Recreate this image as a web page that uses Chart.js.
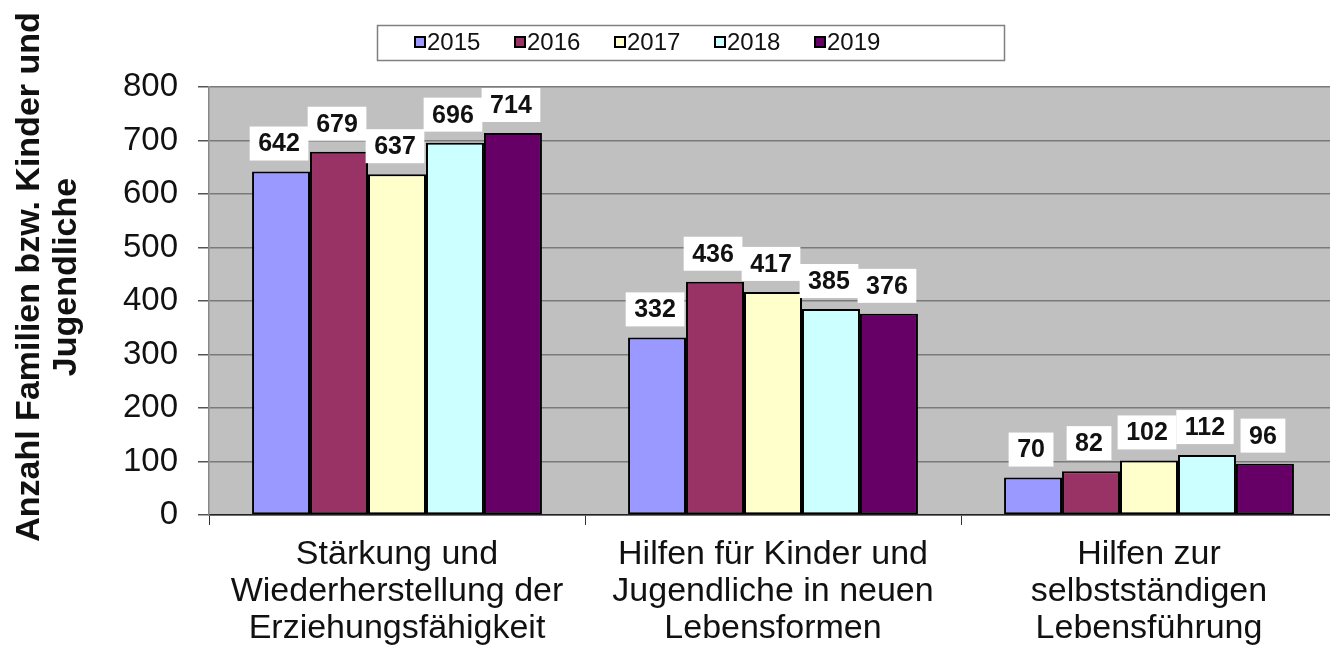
<!DOCTYPE html>
<html><head><meta charset="utf-8">
<script src="https://cdn.jsdelivr.net/npm/chart.js@4/dist/chart.umd.min.js"></script>
<style>html,body{margin:0;padding:0;overflow:hidden;background:#fff}#wrap{width:1337px;height:648px;position:relative}</style>
</head><body><div id="wrap"><canvas id="c" width="1337" height="648"></canvas></div>
<script>
const categories = [
  ["Stärkung und", "Wiederherstellung der", "Erziehungsfähigkeit"],
  ["Hilfen für Kinder und", "Jugendliche in neuen", "Lebensformen"],
  ["Hilfen zur", "selbstständigen", "Lebensführung"]
];
const years = ["2015", "2016", "2017", "2018", "2019"];
const values2015 = [642, 332, 70];
const values2016 = [679, 436, 82];
const values2017 = [637, 417, 102];
const values2018 = [696, 385, 112];
const values2019 = [714, 376, 96];
const seriesValues = [values2015, values2016, values2017, values2018, values2019];
const colors = ["#9999ff", "#993366", "#ffffcc", "#ccffff", "#660066"];
const yMin = 0, yMax = 800, yStep = 100;
const yTitle = ["Anzahl Familien bzw. Kinder und", "Jugendliche"];

const FONT = "'Liberation Sans', Arial, sans-serif";

const bgPlugin = {
  id: 'bg',
  beforeDraw(chart) {
    const {ctx, chartArea: a} = chart;
    ctx.save();
    ctx.fillStyle = '#c0c0c0';
    ctx.fillRect(a.left, a.top, a.right - a.left, a.bottom - a.top);
    ctx.restore();
  }
};

const labelPlugin = {
  id: 'vlabels',
  afterDatasetsDraw(chart) {
    const ctx = chart.ctx;
    ctx.save();
    ctx.font = 'bold 25px ' + FONT;
    ctx.textAlign = 'center';
    ctx.textBaseline = 'middle';
    chart.data.datasets.forEach((ds, di) => {
      const meta = chart.getDatasetMeta(di);
      meta.data.forEach((el, i) => {
        const txt = String(ds.data[i]);
        const w = ctx.measureText(txt).width + 17;
        const h = 34;
        const cx = el.x - 2;
        const bottom = el.y - 11;
        ctx.fillStyle = '#ffffff';
        ctx.fillRect(cx - w / 2, bottom - h, w, h);
        ctx.fillStyle = '#111111';
        ctx.fillText(txt, cx, bottom - h / 2 + 1);
      });
    });
    ctx.restore();
  }
};

const extrasPlugin = {
  id: 'extras',
  afterDraw(chart) {
    const ctx = chart.ctx;
    ctx.save();
    // legend box
    ctx.fillStyle = '#ffffff';
    ctx.fillRect(377, 25, 628, 35);
    ctx.strokeStyle = '#808080';
    ctx.lineWidth = 1.5;
    ctx.strokeRect(377.5, 25.5, 627, 35);
    ctx.font = '24px ' + FONT;
    ctx.textBaseline = 'middle';
    ctx.textAlign = 'left';
    chart.data.datasets.forEach((ds, i) => {
      const x = 415 + i * 100;
      ctx.fillStyle = ds.backgroundColor;
      ctx.fillRect(x, 37, 10, 10);
      ctx.strokeStyle = '#000';
      ctx.lineWidth = 2;
      ctx.strokeRect(x, 37, 10, 10);
      ctx.fillStyle = '#111';
      ctx.fillText(ds.label, x + 12, 43);
    });
    // y axis title
    ctx.font = 'bold 34px ' + FONT;
    ctx.fillStyle = '#111';
    ctx.textAlign = 'center';
    ctx.textBaseline = 'middle';
    yTitle.forEach((line, i) => {
      ctx.save();
      ctx.translate(30 + i * 37, 277);
      ctx.rotate(-Math.PI / 2);
      ctx.fillText(line, 0, 0);
      ctx.restore();
    });
    ctx.restore();
  }
};

new Chart(document.getElementById('c'), {
  type: 'bar',
  data: {
    labels: categories,
    datasets: years.map((y, i) => ({
      label: y,
      data: seriesValues[i],
      backgroundColor: colors[i],
      borderColor: '#000000',
      borderWidth: 2,
      borderSkipped: false,
      barPercentage: 1,
      categoryPercentage: 0.771
    }))
  },
  options: {
    responsive: false,
    devicePixelRatio: 1,
    animation: false,
    layout: {padding: {top: 87, left: 0, right: 0, bottom: 0}},
    plugins: {legend: {display: false}, tooltip: {enabled: false}},
    scales: {
      x: {
        afterFit(s) { s.height = 133; },
        grid: {drawOnChartArea: false, drawTicks: true, tickLength: 10, color: '#333', offset: true},
        border: {color: '#222', width: 1.5},
        ticks: {font: {family: FONT, size: 34, lineHeight: '37px'}, color: '#111', padding: 11, maxRotation: 0, autoSkip: false}
      },
      y: {
        min: yMin, max: yMax,
        afterFit(s) { s.width = 209; },
        grid: {color: '#7a7a7a', lineWidth: 1.5, tickLength: 11, tickColor: '#555'},
        border: {color: '#888', width: 1.5},
        ticks: {stepSize: yStep, font: {family: FONT, size: 33}, color: '#111', padding: 20}
      }
    }
  },
  plugins: [bgPlugin, labelPlugin, extrasPlugin]
});
</script></body></html>
